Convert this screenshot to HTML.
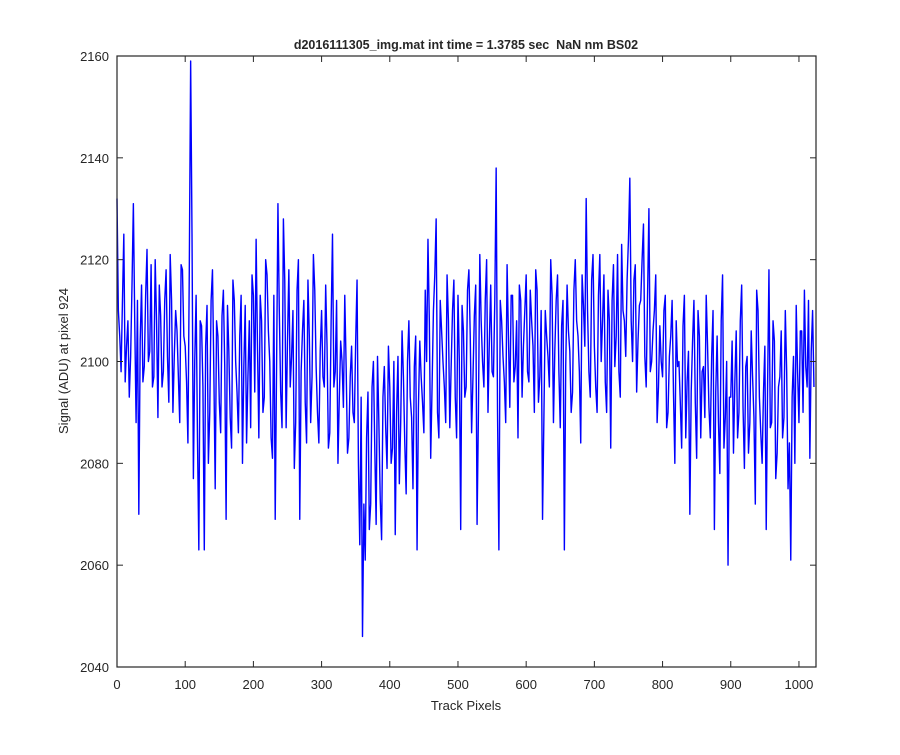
<!DOCTYPE html>
<html><head><meta charset="utf-8"><style>
body{margin:0;background:#fff;}
svg text{font-family:"Liberation Sans",Arial,sans-serif;fill:#262626;}
</style></head><body>
<svg id="chart" width="900" height="750" viewBox="0 0 900 750">
<rect width="900" height="750" fill="#fff"/>
<rect x="117" y="56" width="699" height="611" fill="#fff"/>
<path id="series" fill="none" stroke="#0000ff" stroke-width="1.4" stroke-linejoin="round"/>
<rect x="117" y="56" width="699" height="611" fill="none" stroke="#262626" stroke-width="1.2"/>
<g id="ticks"></g>
<text x="466" y="49" text-anchor="middle" font-size="12.5" font-weight="bold" style="white-space:pre">d2016111305_img.mat int time = 1.3785 sec  NaN nm BS02</text>
<text x="466" y="710" text-anchor="middle" font-size="13">Track Pixels</text>
<text transform="translate(68,361) rotate(-90)" text-anchor="middle" font-size="13">Signal (ADU) at pixel 924</text>
</svg>
<script>
const xTicks=[0,100,200,300,400,500,600,700,800,900,1000];
const yTicks=[2040,2060,2080,2100,2120,2140,2160];
const xStep=4;
const signal=[
2132,2105,2112,2096,2108,2101,2131,2088,2070,2115,2099,2122,2102,2095,2120,2089,2109,2098,2118,2092,2112,2101,2106,2088,2118,
2103,2084,2159,2077,2113,2063,2107,2063,2111,2090,2118,2075,2105,2086,2114,2069,2102,2083,2112,2094,2105,2080,2111,2097,2087,
2113,2124,2085,2108,2093,2117,2100,2081,2069,2131,2094,2128,2087,2118,2101,2079,2114,2069,2106,2092,2116,2088,2121,2099,2084,
2110,2095,2103,2086,2125,2098,2080,2104,2091,2099,2085,2103,2088,2116,2064,2046,2061,2094,2072,2100,2068,2088,2065,2099,2079,
2095,2083,2066,2101,2088,2097,2074,2108,2089,2099,2063,2104,2092,2114,2124,2081,2110,2128,2085,2106,2095,2117,2087,2110,2093,
2113,2067,2106,2095,2118,2086,2109,2068,2121,2100,2112,2090,2115,2097,2138,2063,2108,2096,2119,2091,2113,2099,2085,2112,2103,
2117,2096,2108,2090,2114,2097,2069,2110,2101,2120,2088,2112,2098,2107,2063,2115,2102,2094,2120,2105,2084,2111,2132,2098,2116,
2103,2090,2121,2108,2096,2114,2083,2119,2105,2098,2123,2108,2116,2136,2100,2119,2104,2112,2127,2095,2130,2100,2110,2088,2107,
2097,2113,2090,2105,2094,2108,2100,2083,2113,2096,2070,2104,2092,2110,2085,2099,2113,2091,2101,2067,2105,2078,2117,2089,2060,
2093,2082,2106,2090,2115,2079,2101,2088,2097,2072,2110,2086,2094,2067,2118,2088,2104,2082,2097,2085,2110,2075,2061,2101,2111,
2088,2106,2114,2095,2081,2110];
const signalOdd=[
2110,2098,2125,2103,2093,2115,2108,2112,2104,2096,2113,2100,2119,2097,2108,2115,2095,2112,2101,2121,2090,2110,2097,2119,2105,
2096,2118,2125,2100,2085,2108,2095,2103,2080,2112,2098,2108,2092,2109,2099,2111,2089,2116,2100,2086,2113,2099,2084,2108,2117,
2094,2103,2113,2090,2120,2106,2085,2113,2099,2110,2087,2116,2104,2095,2110,2088,2120,2098,2112,2084,2105,2097,2114,2090,2102,
2097,2115,2083,2108,2095,2112,2093,2100,2113,2082,2097,2090,2104,2080,2093,2072,2085,2067,2095,2083,2101,2073,2093,2087,2103,
2080,2100,2090,2076,2106,2084,2100,2093,2075,2105,2091,2097,2086,2100,2108,2095,2117,2090,2112,2100,2088,2108,2099,2116,2085,
2100,2111,2093,2114,2105,2097,2115,2090,2108,2095,2120,2104,2098,2112,2090,2112,2101,2088,2105,2113,2096,2108,2115,2093,2110,
2098,2114,2103,2118,2092,2110,2089,2105,2095,2113,2102,2117,2087,2112,2099,2106,2090,2114,2108,2098,2117,2103,2110,2093,2121,
2095,2113,2100,2117,2090,2108,2112,2099,2121,2093,2110,2101,2124,2108,2116,2094,2111,2120,2101,2113,2098,2106,2117,2095,2100,
2110,2087,2101,2112,2080,2099,2092,2107,2085,2102,2094,2112,2081,2105,2098,2089,2103,2085,2110,2094,2088,2108,2083,2100,2093,
2104,2096,2085,2108,2091,2099,2082,2106,2089,2114,2093,2080,2103,2095,2087,2108,2077,2095,2106,2089,2098,2084,2093,2080,2098,
2106,2090,2099,2112,2102,2095];
const X0=117,X1=816,XMAX=1025,Y0=667,Y1=56,YMIN=2040,YMAX=2160;
const sx=v=>X0+(v/XMAX)*(X1-X0);
const sy=v=>Y0-(v-YMIN)/(YMAX-YMIN)*(Y0-Y1);
const NS="http://www.w3.org/2000/svg";
const pts=[];
signal.forEach((v,i)=>{
  pts.push([i*xStep,v]);
  if(i<signalOdd.length)pts.push([i*xStep+xStep/2,signalOdd[i]]);
});
let d="";
pts.forEach((p,i)=>{d+=(i?"L":"M")+sx(p[0]).toFixed(2)+","+sy(p[1]).toFixed(2);});
document.getElementById("series").setAttribute("d",d);
const g=document.getElementById("ticks");
function mk(tag,attrs){const e=document.createElementNS(NS,tag);for(const k in attrs)e.setAttribute(k,attrs[k]);return e;}
xTicks.forEach(t=>{
  const x=sx(t);
  const l1=mk("line",{x1:x,x2:x,y1:Y0,y2:Y0-6,stroke:"#262626","stroke-width":1});
  
  
  g.appendChild(l1);
  const l2=mk("line",{x1:x,x2:x,y1:Y1,y2:Y1+6,stroke:"#262626","stroke-width":1});
  
  
  g.appendChild(l2);
  const tx=mk("text",{x:x,y:Y0+22,"text-anchor":"middle","font-size":"13"});
  tx.textContent=t;
  
  
  g.appendChild(tx);
});
yTicks.forEach(t=>{
  const y=sy(t);
  const l1=mk("line",{x1:X0,x2:X0+6,y1:y,y2:y,stroke:"#262626","stroke-width":1});
  
  
  g.appendChild(l1);
  const l2=mk("line",{x1:X1,x2:X1-6,y1:y,y2:y,stroke:"#262626","stroke-width":1});
  
  
  g.appendChild(l2);
  const tx=mk("text",{x:X0-8,y:y+5,"text-anchor":"end","font-size":"13"});
  tx.textContent=t;
  
  
  g.appendChild(tx);
});
</script>
</body></html>
